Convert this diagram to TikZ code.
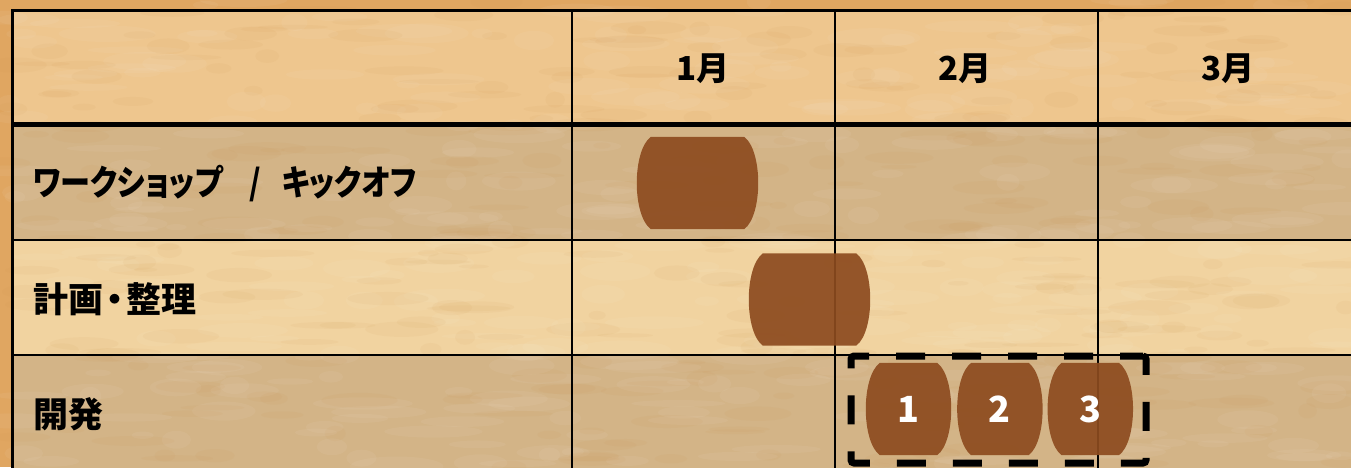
\documentclass[tikz,border=0pt]{standalone}
\usepackage{fontspec}
\usepackage{xcolor}
\usepackage{tikz}
\usetikzlibrary{positioning}
\newfontfamily\jpfont[RawFeature=+palt]{Noto Sans CJK JP}
\newfontfamily\jpnarrow[RawFeature=+palt,FakeStretch=0.86]{Noto Sans CJK JP}
\definecolor{paperbg}{HTML}{E0A661}
\definecolor{paperhead}{HTML}{EEC68E}
\definecolor{papergray}{HTML}{D3B487}
\definecolor{paperlight}{HTML}{F1D3A0}
\definecolor{paperdark}{HTML}{C98C40}
\definecolor{barbrown}{HTML}{8D4B1F}
\tikzset{
gridline/.style={draw=black,line width=2.6pt},
headline/.style={draw=black,line width=4.5pt},
monthlabel/.style={font=\jpfont\bfseries\fontsize{33}{38}\selectfont,text=black,inner sep=0pt},
tasklabel/.style={font=\jpfont\bfseries\fontsize{35}{40}\selectfont,text=black,anchor=west,inner sep=0pt},
barslot/.style={minimum width=121pt,minimum height=92pt,inner sep=0pt},
barfill/.style={fill=barbrown,fill opacity=0.92},
barnum/.style={font=\jpfont\bfseries\fontsize{36}{40}\selectfont,text=white,inner sep=0pt},
devframe/.style={draw=black,line width=7pt,dash pattern=on 29pt off 27pt,dash phase=6pt,
	rounded corners=3pt,minimum width=295pt,minimum height=107pt,inner sep=0pt},
mottle/.style={fill=white,opacity=0.05},
mottledark/.style={fill=paperdark,opacity=0.06}
}
% barrel shaped bar behind a named slot node
\newcommand{\barrelfill}[1]{%
\fill[barfill] ([xshift=14pt]#1.north west) -- ([xshift=-14pt]#1.north east)
 .. controls ([xshift=4.7pt,yshift=-14pt]#1.north east) and ([xshift=4.7pt,yshift=14pt]#1.south east)
 .. ([xshift=-14pt]#1.south east) -- ([xshift=14pt]#1.south west)
 .. controls ([xshift=-4.7pt,yshift=14pt]#1.south west) and ([xshift=-4.7pt,yshift=-14pt]#1.north west)
 .. cycle;}

\begin{document}
\begin{tikzpicture}[x=1pt,y=-1pt]
% Grid in pixel units, y running down
\def\xA{12.5} % label column left
\def\xB{572}  % 1st month
\def\xC{835}  % 2nd month
\def\xD{1098} % 3rd month
\def\xE{1362} % right edge (cut off)
\def\yA{10.5} \def\yB{124.5} \def\yC{240} \def\yD{355} \def\yE{480}

\useasboundingbox (0,0) rectangle (1351,467);
\clip (0,0) rectangle (1351,467);
\fill[paperbg] (0,0) rectangle (1351,467);

% ── Row backgrounds ────────────────────────────────────────────
\fill[paperhead] (\xA,\yA) rectangle (\xE,\yB);
\fill[papergray] (\xA,\yB) rectangle (\xE,\yC);
\fill[paperlight] (\xA,\yC) rectangle (\xE,\yD);
\fill[papergray] (\xA,\yD) rectangle (\xE,\yE);

% paper mottling
\pgfmathsetseed{4711}
\foreach \i in {1,...,400}{
	\pgfmathsetmacro\mx{rnd*1351}
	\pgfmathsetmacro\my{rnd*467}
	\pgfmathsetmacro\rx{10+rnd*40}
	\pgfmathsetmacro\ry{3+rnd*7}
	\fill[mottle] (\mx,\my) ellipse ({\rx pt} and {\ry pt});
}
\foreach \i in {1,...,350}{
	\pgfmathsetmacro\mx{rnd*1351}
	\pgfmathsetmacro\my{rnd*467}
	\pgfmathsetmacro\rx{8+rnd*35}
	\pgfmathsetmacro\ry{2+rnd*6}
	\fill[mottledark] (\mx,\my) ellipse ({\rx pt} and {\ry pt});
}

% ── Grid lines ─────────────────────────────────────────────────
\draw[gridline] (\xA,\yA) rectangle (\xE,\yE);
\draw[gridline] (\xB,\yA) -- (\xB,\yE);
\draw[gridline] (\xC,\yA) -- (\xC,\yE);
\draw[gridline] (\xD,\yA) -- (\xD,\yE);
\draw[gridline] (\xA,\yC) -- (\xE,\yC);
\draw[gridline] (\xA,\yD) -- (\xE,\yD);
\draw[headline] (\xA,\yB) -- (\xE,\yB);

% ── Header ─────────────────────────────────────────────────────
\node[monthlabel] (jan) at (703,69) {1月};
\node[monthlabel] (feb) at (965,69) {2月};
\node[monthlabel] (mar) at (1228,69) {3月};

% ── Task labels ────────────────────────────────────────────────
\node[tasklabel,font=\jpnarrow\bfseries\fontsize{35}{40}\selectfont] (ws) at (33,184)
 {ワークショップ\hspace{0.75em}/\hspace{0.6em}キックオフ};
\node[tasklabel] (plan) at (33,299) {計画\hspace{0.08em}・\hspace{0.08em}整理};
\node[tasklabel] (dev) at (33,414) {開発};

% ── Bars ───────────────────────────────────────────────────────
\node[barslot] (wsbar) at (697.5,183) {};
\barrelfill{wsbar}
\node[barslot] (planbar) at (809.5,299.5) {};
\barrelfill{planbar}

\node[barslot,minimum width=85pt] (dev1) at (908.5,409) {};
\node[barslot,minimum width=85pt,right=6pt of dev1] (dev2) {};
\node[barslot,minimum width=85pt,right=5pt of dev2] (dev3) {};
\barrelfill{dev1}
\barrelfill{dev2}
\barrelfill{dev3}
\node[barnum] (dev1n) at (dev1) {1};
\node[barnum] (dev2n) at (dev2) {2};
\node[barnum] (dev3n) at (dev3) {3};

% ── Development frame ──────────────────────────────────────────
\node[devframe] (devbox) at (998.5,409.5) {};
\end{tikzpicture}
\end{document}
